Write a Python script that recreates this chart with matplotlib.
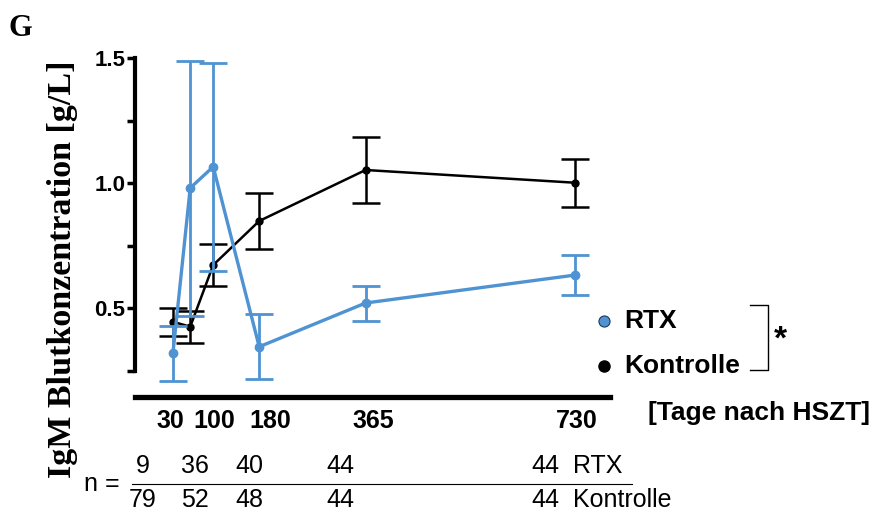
import matplotlib.pyplot as plt
import matplotlib.transforms as mtransforms
from matplotlib.lines import Line2D

# data
days = [30, 60, 100, 180, 365, 730]
rtx_mean = [0.32, 0.98, 1.065, 0.345, 0.52, 0.632]
rtx_err = [0.11, 0.51, 0.415, 0.13, 0.07, 0.08]
ctrl_mean = [0.445, 0.425, 0.672, 0.848, 1.052, 1.001]
ctrl_err = [0.055, 0.065, 0.083, 0.113, 0.132, 0.096]
tick_days = [30, 100, 180, 365, 730]
n_rtx = ["9", "36", "40", "44", "44"]
n_ctrl = ["79", "52", "48", "44", "44"]
n_xpos = [143, 195, 249, 340, 545]  # pixel centres of the n columns

blue = "#4f93d2"
W, H = 880, 517
sans = "Liberation Sans"

fig = plt.figure(figsize=(8.8, 5.17), dpi=100)
ax = fig.add_axes([135 / W, 1 - 397 / H, (610 - 135) / W, (397 - 58) / H])

ax.errorbar(days, ctrl_mean, yerr=ctrl_err, color="black", lw=1.8, marker="o",
            ms=5, capsize=10, capthick=1.8, elinewidth=1.8, clip_on=False, zorder=3)
ax.errorbar(days, rtx_mean, yerr=rtx_err, color=blue, lw=2.4, marker="o",
            ms=6, capsize=10, capthick=2, elinewidth=2, clip_on=False, zorder=4)

ax.set_xlim(-36, 790)
ax.set_ylim(0.144, 1.5)

for s in ["top", "right"]:
    ax.spines[s].set_visible(False)
ax.spines["left"].set_linewidth(3)
ax.spines["left"].set_bounds(0.25, 1.5)
ax.spines["bottom"].set_linewidth(3.8)

ax.set_yticks([0.5, 1.0, 1.5])
ax.set_yticklabels(["0.5", "1.0", "1.5"], fontsize=16, fontweight="bold", family=sans)
ax.set_yticks([0.25, 0.75, 1.25], minor=True)
ax.tick_params(axis="y", which="both", length=6, width=2.5, pad=1)

ax.set_xticks(tick_days)
ax.set_xticklabels([str(d) for d in tick_days], fontsize=18, fontweight="bold",
                   family=sans)
ax.tick_params(axis="x", length=0, pad=9)
# the original labels sit a little right of their points
for lab, dx in zip(ax.get_xticklabels(), [-3, 1, 11, 8, 1]):
    lab.set_transform(lab.get_transform() +
                      mtransforms.ScaledTranslation(dx / 100, 0, fig.dpi_scale_trans))

fig.text(648 / W, 1 - 413 / H, "[Tage nach HSZT]", fontsize=19, fontweight="bold",
         family=sans, va="center", ha="left")
fig.text(62 / W, 1 - 269 / H, "IgM Blutkonzentration [g/L]", rotation=90,
         fontsize=24.5, fontweight="bold", family="Liberation Serif",
         ha="center", va="center")
fig.text(8 / W, 1 - 29 / H, "G", fontsize=22, fontweight="bold",
         family="Liberation Serif", va="center", ha="left")

# legend
fig.add_artist(Line2D([604 / W], [1 - 321 / H], marker="o", ms=8, color=blue,
                      mec="#1a3a5a", mew=0.8, transform=fig.transFigure))
fig.add_artist(Line2D([604 / W], [1 - 366 / H], marker="o", ms=8, color="black",
                      transform=fig.transFigure))
fig.text(624 / W, 1 - 321 / H, "RTX", fontsize=19, fontweight="bold",
         family=sans, va="center", ha="left")
fig.text(624 / W, 1 - 366 / H, "Kontrolle", fontsize=19, fontweight="bold",
         family=sans, va="center", ha="left")
fig.add_artist(Line2D([750 / W, 768 / W, 768 / W, 750 / W],
                      [1 - 305 / H, 1 - 305 / H, 1 - 370 / H, 1 - 370 / H],
                      color="black", lw=1, transform=fig.transFigure))
fig.text(780 / W, 1 - 340 / H, "*", fontsize=24, fontweight="bold",
         family=sans, va="center", ha="center")

# n table
fig.text(120 / W, 1 - 484 / H, "n =", fontsize=18, family=sans,
         va="center", ha="right")
fig.add_artist(Line2D([132 / W, 632 / W], [1 - 484 / H, 1 - 484 / H], color="black",
                      lw=0.8, transform=fig.transFigure))
for x, a, b in zip(n_xpos, n_rtx, n_ctrl):
    fig.text(x / W, 1 - 466 / H, a, fontsize=18, family=sans,
             va="center", ha="center")
    fig.text(x / W, 1 - 500 / H, b, fontsize=18, family=sans,
             va="center", ha="center")
fig.text(573 / W, 1 - 466 / H, "RTX", fontsize=18, family=sans,
         va="center", ha="left")
fig.text(573 / W, 1 - 500 / H, "Kontrolle", fontsize=18, family=sans,
         va="center", ha="left")

fig.savefig("out.png", dpi=100)
